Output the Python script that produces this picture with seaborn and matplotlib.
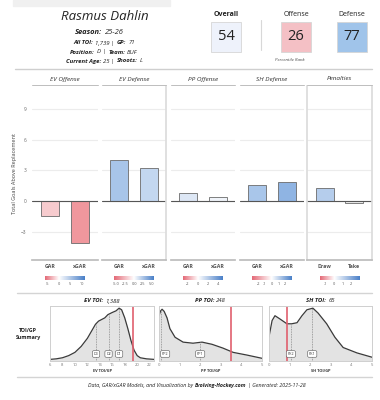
import numpy as np
import matplotlib
matplotlib.use('Agg')
import matplotlib.pyplot as plt
import seaborn as sns
from matplotlib.colors import LinearSegmentedColormap, TwoSlopeNorm
from matplotlib.patches import Rectangle

player = "Rasmus Dahlin"
season = "25-26"
all_toi = "1,739"
gp = "71"
position = "D"
team = "BUF"
age = "25"
shoots = "L"

rank_labels = ["Overall", "Offense", "Defense"]
rank_values = [54, 26, 77]

panel_titles = ["EV Offense", "EV Defense", "PP Offense", "SH Defense", "Penalties"]
bar_labels = [["GAR", "xGAR"], ["GAR", "xGAR"], ["GAR", "xGAR"], ["GAR", "xGAR"], ["Draw", "Take"]]
bar_values = [[-1.5, -4.15], [4.05, 3.25], [0.8, 0.42], [1.55, 1.85], [1.25, -0.2]]
y_ticks = [-3, 0, 3, 6, 9]
scale_ticks = [[-5, 0, 5, 10], [-5.0, -2.5, 0.0, 2.5, 5.0], [-2, 0, 2, 4], [-2, -1, 0, 1, 2], [-1, 0, 1, 2]]
scale_tick_labels = [["-5", "0", "5", "10"], ["-5.0", "-2.5", "0.0", "2.5", "5.0"],
                     ["-2", "0", "2", "4"], ["-2", "-1", "0", "1", "2"], ["-1", "0", "1", "2"]]
scale_ranges = [(-6.2, 11.5), (-5.6, 5.6), (-3.0, 5.0), (-2.9, 3.0), (-1.7, 3.0)]

toi_titles = ["EV TOI:", "PP TOI:", "SH TOI:"]
toi_totals = ["1,388", "248", "65"]
toi_xlabels = ["EV TOI/GP", "PP TOI/GP", "SH TOI/GP"]
toi_ticks = [[6, 8, 10, 12, 14, 16, 18, 20, 22], [0, 1, 2, 3, 4, 5], [0, 1, 2, 3, 4, 5]]

ev_x = [6.0, 7.0, 8.0, 9.0, 10.0, 11.0, 12.0, 12.8, 13.3, 13.8, 14.3, 14.8, 15.3, 16.0, 16.6,
        17.1, 17.5, 18.0, 18.5, 19.0, 19.5, 20.0, 20.5, 21.5, 22.7]
ev_y = [0.03, 0.04, 0.06, 0.10, 0.16, 0.27, 0.42, 0.58, 0.68, 0.74, 0.77, 0.80, 0.86, 0.90, 0.93,
        0.98, 0.95, 0.80, 0.60, 0.38, 0.20, 0.10, 0.06, 0.04, 0.03]
pp_x = [0.0, 0.08, 0.15, 0.25, 0.39, 0.53, 0.78, 1.17, 1.65, 2.09, 2.57, 3.1, 3.6, 4.27, 5.0]
pp_y = [0.84, 0.93, 0.96, 0.92, 0.80, 0.60, 0.44, 0.35, 0.33, 0.35, 0.31, 0.24, 0.16, 0.11, 0.05]
sh_x = [0.0, 0.15, 0.29, 0.53, 0.87, 1.1, 1.36, 1.6, 1.84, 2.13, 2.38, 2.8, 3.2, 3.6, 4.27, 5.0]
sh_y = [0.45, 0.75, 0.84, 0.78, 0.69, 0.69, 0.71, 0.84, 0.95, 0.98, 0.89, 0.69, 0.44, 0.25, 0.15, 0.07]
toi_curves = [(ev_x, ev_y), (pp_x, pp_y), (sh_x, sh_y)]
toi_marks = [{"D3": 13.4, "D2": 15.4, "D1": 17.1}, {"PP2": 0.1, "PP1": 2.0}, {"PK2": 1.06, "PK1": 2.1}]
toi_player = [19.4, 3.5, 0.88]

# ---- styles ----
bar_colors = [["#f7cbce", "#f0979d"], ["#a8c5e9", "#c3d7f0"], ["#dde7f5", "#f0f4fa"],
              ["#a9c6ea", "#8fb4e3"], ["#b5cdec", "#ececec"]]
rank_colors = ["#eef2fb", "#f4c0c5", "#a0c4ea"]
scale_cmap = LinearSegmentedColormap.from_list("gar", ["#e46a77", "#ffffff", "#4a80c8"])

W, H = 380, 400
sns.set_theme(style="white")
plt.rcParams['font.family'] = ['Open Sans', 'DejaVu Sans']
fig = plt.figure(figsize=(W / 100, H / 100), dpi=100)
renderer = fig.canvas.get_renderer()


def px_axes(x0, y0, x1, y1):
    return fig.add_axes([x0 / W, 1 - y1 / H, (x1 - x0) / W, (y1 - y0) / H])


def ftext(x, y, s, **kw):
    return fig.text(x / W, 1 - y / H, s, **kw)


def runs(x, y, parts, size, gap=0.36):
    # mixed bold / regular italic pieces, centred at x
    texts = [ftext(0, y, s, fontsize=size, fontweight=w, style="italic", va="center", color="#222")
             for s, w in parts]
    widths = [t.get_window_extent(renderer).width for t in texts]
    g = gap * size * 100 / 72
    start = x - (sum(widths) + g * (len(parts) - 1)) / 2
    for t, w in zip(texts, widths):
        t.set_x(start / W)
        start += w + g


def hline(y, x0=17, x1=372, color="#d4d4d4", lw=1.0):
    fig.add_artist(plt.Line2D([x0 / W, x1 / W], [1 - y / H, 1 - y / H], color=color, lw=lw))


# ---- header ----
fig.add_artist(Rectangle((13 / W, 1 - 6 / H), 157 / W, 6 / H, color="#f0f0f0", transform=fig.transFigure))
ftext(105, 17, player, fontsize=9.5, style="italic", ha="center", va="center", color="#222")
runs(99, 32, [("Season:", "bold"), (season, "normal")], 5.4)
runs(104, 43, [("All TOI:", "bold"), (all_toi + " |", "normal"), ("GP:", "bold"), (gp, "normal")], 4.3)
runs(104, 52, [("Position:", "bold"), (position + " |", "normal"), ("Team:", "bold"), (team, "normal")], 4.3)
runs(104, 61, [("Current Age:", "bold"), (age + " |", "normal"), ("Shoots:", "bold"), (shoots, "normal")], 4.3)
hline(68.5, 15, 372, color="#cfcfcf", lw=1.0)

rank_boxes = [(211, 241), (281, 311), (337, 367)]
for i, (lab, val) in enumerate(zip(rank_labels, rank_values)):
    x0, x1 = rank_boxes[i]
    fig.add_artist(Rectangle((x0 / W, 1 - 52 / H), (x1 - x0) / W, 30 / H, facecolor=rank_colors[i],
                             edgecolor="#d6d6d6", lw=0.6, transform=fig.transFigure))
    ftext((x0 + x1) / 2, 37, str(val), fontsize=10.5, ha="center", va="center", color="#222")
    ftext((x0 + x1) / 2, 15, lab, fontsize=5, ha="center", va="center", color="#222",
          fontweight="bold" if i == 0 else "normal")
fig.add_artist(plt.Line2D([261 / W, 261 / W], [1 - 20 / H, 1 - 50 / H], color="#d8d8d8", lw=0.8))
ftext(290, 60, "Percentile Rank", fontsize=3.2, style="italic", ha="center", va="center", color="#444")

# ---- GAR bar panels ----
panel_x = [(32, 98), (102, 166), (171, 235), (240, 304), (307, 372)]
for i, (x0, x1) in enumerate(panel_x):
    ax = px_axes(x0, 86, x1, 260)
    sns.barplot(x=bar_labels[i], y=bar_values[i], hue=bar_labels[i], palette=bar_colors[i],
                legend=False, ax=ax, width=0.62, edgecolor="#6b6b6b", linewidth=0.6, saturation=1)
    ax.set_xlim(-0.6, 1.6)
    ax.set_ylim(-5.8, 11.3)
    ax.set_yticks(y_ticks)
    ax.yaxis.grid(True, color="#ececec", lw=0.8)
    ax.set_axisbelow(True)
    ax.axhline(0, color="#555", lw=0.8, zorder=1)
    for sp in ax.spines.values():
        sp.set_visible(False)
    ax.spines["bottom"].set_visible(True)
    ax.spines["bottom"].set_color("#bdbdbd")
    if i == 1:
        ax.spines["right"].set_visible(True)
        ax.spines["right"].set_color("#dcdcdc")
    if i == 4:
        for s in ("left", "right"):
            ax.spines[s].set_visible(True)
            ax.spines[s].set_color("#dcdcdc")
    ax.tick_params(axis="x", labelsize=3.8, colors="#555", length=0, pad=3)
    for lab in ax.get_xticklabels():
        lab.set_fontweight("bold")
    if i == 0:
        ax.tick_params(axis="y", labelsize=3.4, colors="#666", length=0, pad=4)
        ax.set_ylabel("Total Goals Above Replacement", fontsize=4, color="#444", labelpad=3)
    else:
        ax.set_yticklabels([])
        ax.tick_params(axis="y", length=0)
    ftext((x0 + x1) / 2, 79, panel_titles[i], fontsize=4.6, style="italic", ha="center",
          va="center", color="#333")
    hline(85, x0, x1, color="#bdbdbd", lw=0.7)

    # small colour scale under each panel
    cx = (x0 + x1) / 2
    cax = px_axes(cx - 20, 276, cx + 20, 280)
    lo, hi = scale_ranges[i]
    grad = np.linspace(lo, hi, 200)
    norm = TwoSlopeNorm(vmin=lo, vcenter=0, vmax=hi)
    cax.imshow(norm(grad)[None, :], aspect="auto", cmap=scale_cmap, extent=(lo, hi, 0, 1))
    cax.set_xticks(scale_ticks[i])
    cax.set_xticklabels(scale_tick_labels[i])
    cax.set_yticks([])
    cax.tick_params(axis="x", labelsize=2.8, colors="#555", length=0, pad=1.5)
    for sp in cax.spines.values():
        sp.set_visible(False)

# ---- TOI/GP density panels ----
hline(293)
ftext(28, 334, "TOI/GP\nSummary", fontsize=3.8, fontweight="bold", ha="center", va="center",
      color="#222", linespacing=1.5)
dens_x = [(50, 154), (159, 262), (269, 372)]
for i, (x0, x1) in enumerate(dens_x):
    ax = px_axes(x0, 306, x1, 361)
    xs, ys = toi_curves[i]
    ax.fill_between(xs, ys, color="#e3e3e3", lw=0)
    sns.lineplot(x=xs, y=ys, ax=ax, color="#3a3a3a", lw=0.9)
    for name, v in toi_marks[i].items():
        top = np.interp(v, xs, ys)
        ax.vlines(v, 0, top, colors="#8a8a8a", linestyles=(0, (1, 1)), lw=0.6)
        ax.text(max(v, xs[0] + 0.06 * (xs[-1] - xs[0])), 0.13, name, fontsize=2.6, ha="center",
                va="center", color="#333",
                bbox=dict(boxstyle="round,pad=0.35", fc="white", ec="#555", lw=0.4))
    ax.axvline(toi_player[i], color="#e0606e", lw=1.2)
    ax.set_xlim(xs[0], xs[-1])
    ax.set_ylim(0, 1.02)
    ax.set_yticks([])
    ax.set_xticks(toi_ticks[i])
    ax.tick_params(axis="x", labelsize=3, colors="#777", length=0, pad=1.5)
    ax.set_xlabel(toi_xlabels[i], fontsize=2.8, fontweight="bold", color="#333", labelpad=1.5)
    for sp in ax.spines.values():
        sp.set_color("#cfcfcf")
        sp.set_linewidth(0.7)
    runs((x0 + x1) / 2, 301, [(toi_titles[i], "bold"), (toi_totals[i], "normal")], 4.3)

hline(377)
runs(197, 386, [("Data, GAR/xGAR Models, and Visualization by", "normal"),
                ("Evolving-Hockey.com", "bold"), ("| Generated: 2025-11-28", "normal")], 3.8)

fig.savefig("out.png", dpi=100)
